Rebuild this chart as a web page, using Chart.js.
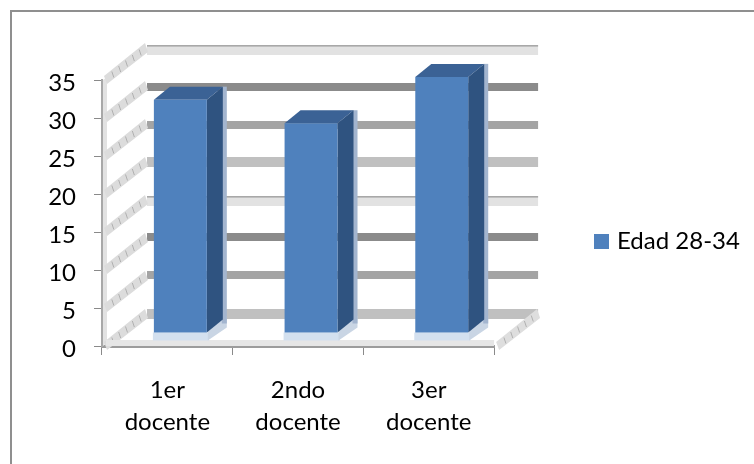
<!DOCTYPE html>
<html><head><meta charset="utf-8">
<style>html,body{margin:0;padding:0;background:#fff}#w{width:754px;height:464px}</style>
<script src="https://cdn.jsdelivr.net/npm/chart.js@4"></script></head>
<body><div id="w"><canvas id="c" width="754" height="464"></canvas></div>
<script>
const categories = [['1er','docente'],['2ndo','docente'],['3er','docente']];
const seriesName = 'Edad 28-34';
const seriesValues = [30.7, 27.6, 33.7];
const yTicks = [0,5,10,15,20,25,30,35];

const DX = 45, DY = 33;            // depth of the 3D box
const BX = 13, BY = 13;            // bar front offset from the front plane
const SX = 16, SY = 13;            // bar depth
const BAR = '#4f81bd';
const bandStyles = [
  {fill:'#c0c0c0',o:-4,h:10},
  {fill:'#a4a4a4',o:-4,h:8},
  {fill:'#8b8b8b',o:-4,h:8},
  {fill:'#e2e2e2',o:-3,h:10,top:'#a8a8a8'},
  {fill:'#c0c0c0',o:-4,h:10},
  {fill:'#a4a4a4',o:-2,h:8},
  {fill:'#8b8b8b',o:-2,h:8},
  {fill:'#e2e2e2',o:-2,h:10,top:'#a8a8a8'}
];
function poly(ctx,pts,fill){ctx.beginPath();pts.forEach((p,i)=>i?ctx.lineTo(p[0],p[1]):ctx.moveTo(p[0],p[1]));ctx.closePath();ctx.fillStyle=fill;ctx.fill();}
function hatchBand(ctx,x0,y0,fill){
  poly(ctx,[[x0+2,y0-4],[x0+DX-2,y0-DY-4],[x0+DX+1,y0-DY+5],[x0+5,y0+4]],fill);
  ctx.strokeStyle='#b0b0b0';ctx.lineWidth=1;
  for(let i=1;i<6;i++){const t=i/6,x=x0+3+t*(DX-4),y=y0-t*DY;
    ctx.beginPath();ctx.moveTo(x,y-3);ctx.lineTo(x+2,y+3);ctx.stroke();}
}
const legendMark = document.createElement('canvas');
legendMark.width = 15; legendMark.height = 15;
{const m = legendMark.getContext('2d'); m.fillStyle = BAR; m.fillRect(0,0,15,15);}

const box3d = {
  id:'box3d',
  afterLayout(chart){
    const l=chart.legend, w=l.right-l.left;
    l.left=592; l.right=592+w; l.top=221; l.bottom=262;
    chart.scales.y.getLabelItems().forEach(i=>{i.options.translation[1]+=3;});
  },
  beforeDraw(chart){
    const ctx=chart.ctx;ctx.save();
    ctx.fillStyle='#8f8f8f';
    ctx.fillRect(10,10,2,454);
    ctx.fillRect(10,10,744,2);
    ctx.restore();
  },
  beforeDatasetsDraw(chart){
    const ctx=chart.ctx,x=chart.scales.x,y=chart.scales.y;
    ctx.save();ctx.filter='blur(0.6px)';
    // left wall strip
    poly(ctx,[[x.left+1,y.bottom],[x.left+1,y.top],[x.left+5,y.top-3],[x.left+5,y.bottom-3]],'#e2e2e2');
    // back wall bands
    yTicks.forEach((v,i)=>{
      const s=bandStyles[i],py=y.getPixelForValue(v)-DY;
      ctx.fillStyle=s.fill;ctx.fillRect(x.left+DX,py+s.o,x.right-x.left-1,s.h);
      if(s.top){ctx.fillStyle=s.top;ctx.fillRect(x.left+DX,py+s.o,x.right-x.left-1,1.6);}
    });
    // left wall hatched gridlines
    yTicks.forEach(v=>hatchBand(ctx,x.left,y.getPixelForValue(v),'#dcdcdc'));
    // floor
    ctx.fillStyle='#e6e6e6';ctx.fillRect(x.left+4,y.bottom-6,x.right-x.left-4,6);
    hatchBand(ctx,x.right,y.bottom,'#dedede');
    // bar reflections and 3D sides
    const meta=chart.getDatasetMeta(0);
    meta.data.forEach(b=>{
      const l=b.x-b.width/2+BX,r=b.x+b.width/2+BX,t=b.y-BY,bo=b.base-BY;
      ctx.fillStyle='#d3e0ef';ctx.fillRect(l-1,bo,r-l+3,8);
      poly(ctx,[[r+1,bo+8],[r+SX+4,bo-SY+8],[r+SX+4,bo-SY-4],[r+1,bo-2]],'#c9d5e4');
      ctx.fillStyle='#a3b5cf';ctx.fillRect(r+SX-1,t-SY,5,bo-t+4);
    });
    meta.data.forEach(b=>{
      const l=b.x-b.width/2+BX,r=b.x+b.width/2+BX,t=b.y-BY,bo=b.base-BY;
      poly(ctx,[[l,t],[l+SX,t-SY],[r+SX,t-SY],[r,t]],'#3b6295');
      poly(ctx,[[r,t],[r+SX,t-SY],[r+SX,bo-SY],[r,bo]],'#2f5380');
    });
    ctx.restore();
  },
  beforeDatasetDraw(chart){chart.ctx.save();chart.ctx.translate(BX,-BY);chart.ctx.filter='blur(0.5px)';},
  afterDatasetDraw(chart){chart.ctx.restore();}
};
new Chart(document.getElementById('c'),{
  type:'bar',
  data:{labels:categories,datasets:[{label:seriesName,data:seriesValues,backgroundColor:BAR,borderWidth:0,barPercentage:0.81,categoryPercentage:0.5}]},
  options:{
    responsive:false,animation:false,
    layout:{padding:{left:0,right:102,top:80,bottom:0}},
    plugins:{
      tooltip:{enabled:false},
      legend:{position:'right',labels:{usePointStyle:true,pointStyle:legendMark,pointStyleWidth:7,padding:6,color:'#000',font:{family:'Lato',size:24}}}
    },
    scales:{
      x:{afterFit(s){s.height=118;},grid:{drawOnChartArea:false,color:'#8a8a8a',tickLength:9},border:{color:'#9c9c9c',width:3},
         ticks:{color:'#000',font:{family:'Lato',size:24,lineHeight:1.333},maxRotation:0,padding:19}},
      y:{afterFit(s){s.width=102;},min:0,max:35,grid:{drawOnChartArea:false,color:'#8a8a8a',tickLength:8},border:{color:'#a8a8a8',width:2},
         ticks:{stepSize:5,color:'#000',font:{family:'Lato',size:24},padding:18}}
    }
  },
  plugins:[box3d]
});
</script></body></html>
